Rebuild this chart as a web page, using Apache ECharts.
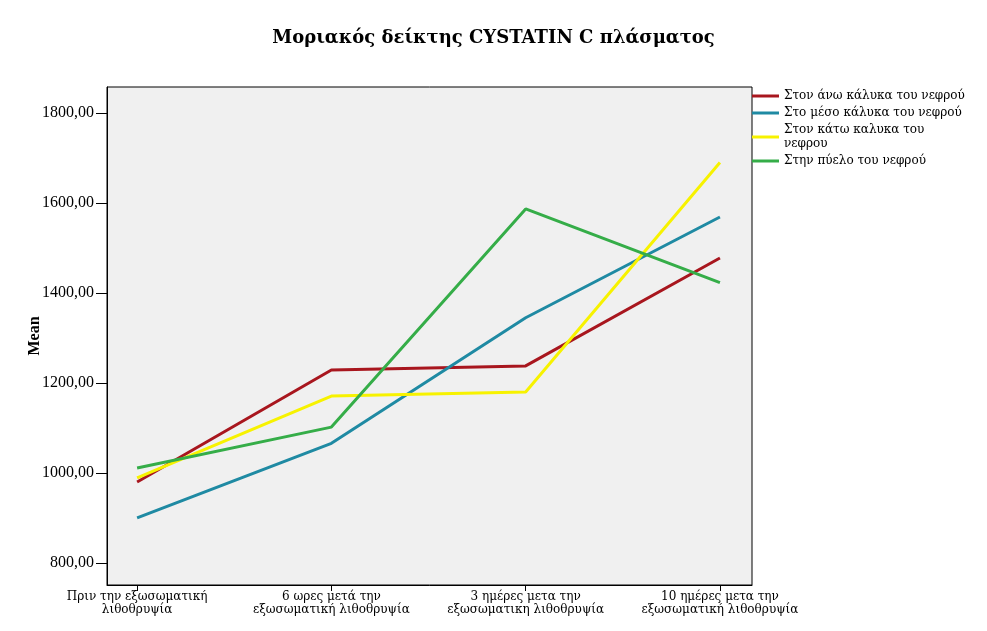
<!DOCTYPE html>
<html>
<head>
<meta charset="utf-8">
<script src="https://cdn.jsdelivr.net/npm/echarts@6/dist/echarts.min.js"></script>
<style>
  html, body { margin: 0; padding: 0; background: #fff; }
  #chart { width: 987px; height: 631px; }
</style>
</head>
<body>
<div id="chart"></div>
<script>
const categories = [
  'Πριν την εξωσωματική\nλιθοθρυψία',
  '6 ωρες μετά την\nεξωσωματική λιθοθρυψία',
  '3 ημέρες μετα την\nεξωσωματικη λιθοθρυψία',
  '10 ημέρες μετα την\nεξωσωματική λιθοθρυψία'
]
const seriesNames = [
  'Στον άνω κάλυκα του νεφρού',
  'Στο μέσο κάλυκα του νεφρού',
  'Στον κάτω καλυκα του\nνεφρου',
  'Στην πύελο του νεφρού'
]
const upperCalyx = [980, 1229, 1238, 1478]
const middleCalyx = [900, 1066, 1345, 1569]
const lowerCalyx = [989, 1171, 1180, 1690]
const pelvis = [1011, 1102, 1587, 1423]
const yTicks = [800, 1000, 1200, 1400, 1600, 1800]

const colors = ['#a8161e', '#1f8aa3', '#f7f200', '#35ad48']
const serif = '"Liberation Serif", "DejaVu Serif", serif'
const wideSerif = '"DejaVu Serif", serif'

const chart = echarts.init(document.getElementById('chart'))

const toPoints = arr => arr.map((v, i) => [i, v])

chart.setOption({
  backgroundColor: '#fff',
  animation: false,
  title: {
    text: 'Μοριακός δείκτης CYSTATIN C πλάσματος',
    left: 'center',
    top: 24,
    textStyle: { fontFamily: wideSerif, fontSize: 18, fontWeight: 'bold', color: '#000' }
  },
  legend: {
    orient: 'vertical',
    left: 747,
    top: 84,
    itemWidth: 27,
    itemHeight: 3,
    itemGap: 3,
    icon: 'rect',
    data: seriesNames,
    textStyle: { fontFamily: wideSerif, fontSize: 12, color: '#000', lineHeight: 14 }
  },
  grid: {
    left: 107,
    right: 235,
    top: 87,
    bottom: 46,
    show: true,
    backgroundColor: '#f0f0f0',
    borderColor: '#000',
    borderWidth: 1
  },
  xAxis: {
    type: 'value',
    min: -0.155,
    max: 3.165,
    axisLine: { onZero: false, lineStyle: { color: '#000' } },
    axisTick: { length: 6, lineStyle: { color: '#000' }, customValues: [0, 1, 2, 3] },
    splitLine: { show: false },
    axisLabel: {
      customValues: [0, 1, 2, 3],
      formatter: v => categories[Math.round(v)],
      fontFamily: wideSerif,
      fontSize: 12,
      lineHeight: 13,
      color: '#000',
      margin: 5
    }
  },
  yAxis: {
    type: 'value',
    min: 751,
    max: 1858,
    name: 'Mean',
    nameLocation: 'middle',
    nameGap: 64,
    nameMoveOverlap: false,
    nameTextStyle: { fontFamily: serif, fontSize: 16, fontWeight: 'bold', color: '#000' },
    axisLine: { show: true, onZero: false, lineStyle: { color: '#000' } },
    axisTick: { show: true, length: 11, lineStyle: { color: '#000' }, customValues: yTicks },
    splitLine: { show: false },
    axisLabel: {
      customValues: yTicks,
      formatter: v => v.toFixed(2).replace('.', ','),
      fontFamily: serif,
      fontSize: 16,
      color: '#000',
      margin: 13
    }
  },
  series: [upperCalyx, middleCalyx, lowerCalyx, pelvis].map((arr, i) => ({
    name: seriesNames[i],
    type: 'line',
    data: toPoints(arr),
    showSymbol: false,
    lineStyle: { width: 3, color: colors[i] },
    itemStyle: { color: colors[i] }
  }))
})
</script>
</body>
</html>
